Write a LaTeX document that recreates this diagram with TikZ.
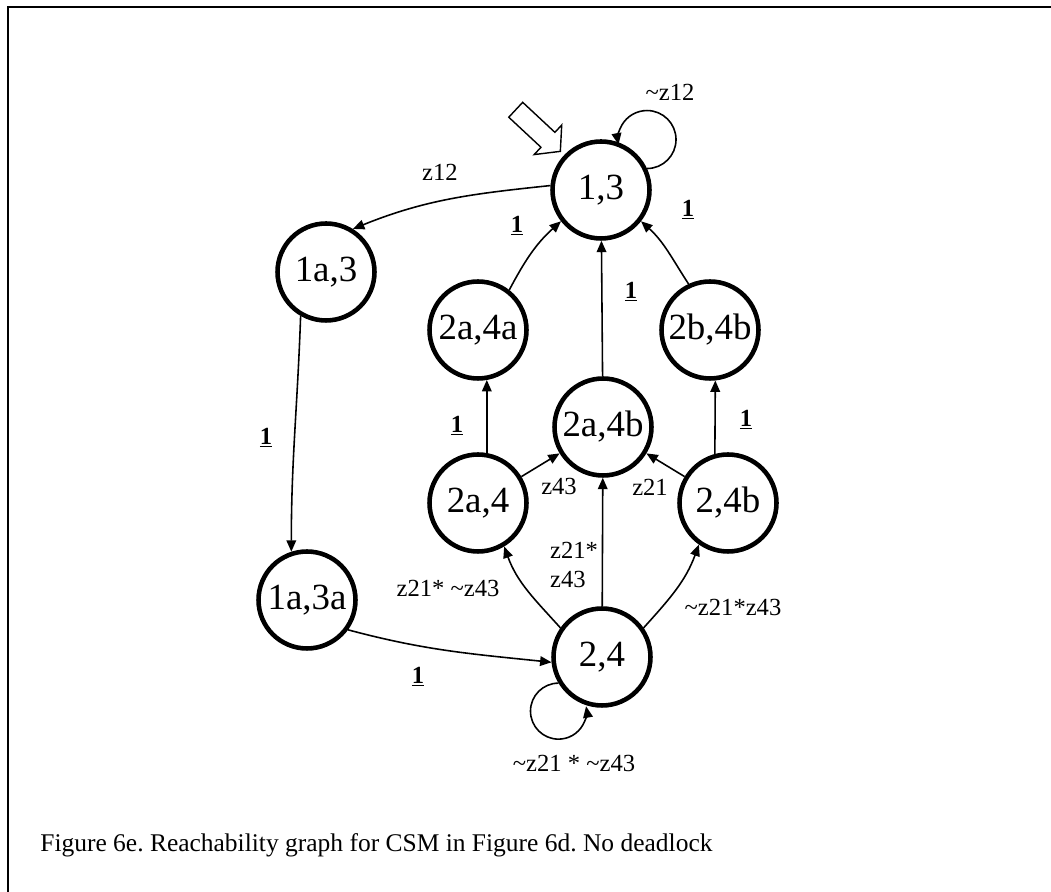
\documentclass[tikz,border=0pt]{standalone}
\usepackage{fontspec}
\setmainfont{Liberation Serif}
\usetikzlibrary{arrows.meta,shapes.arrows}

\newcommand{\ulbf}[1]{\underline{\textbf{#1}}}
\frenchspacing

\begin{document}
\begin{tikzpicture}[x=0.02cm,y=0.02cm,
    state/.style={draw,circle,line width=2.6pt,minimum size=1.94cm,inner sep=0pt,font=\fontsize{21}{24}\selectfont},
    lbl/.style={font=\fontsize{14}{17}\selectfont,inner sep=1pt},
    one/.style={font=\fontsize{14}{17}\selectfont,inner sep=1pt},
    trans/.style={-{Triangle[length=6.5pt,width=5.5pt]},line width=0.9pt},
    startarrow/.style={draw,single arrow,line width=0.8pt,inner sep=0.19cm,minimum height=1.22cm,single arrow head extend=0.2cm,single arrow tip angle=100}]
    \useasboundingbox (0,0) rectangle (1051,892);
    \draw[line width=1.3pt] (8,0) -- (8,885) -- (1051,885);

    \node[state] (n13) at (601,702) {1,3};
    \node[state] (n1a3) at (326,620) {1a,3};
    \node[state] (n1a3a) at (307,292) {1a,3a};
    \node[state] (n2a4a) at (478,562) {2a,4a};
    \node[state] (n2b4b) at (710,562) {2b,4b};
    \node[state] (n2a4b) at (603,465) {2a,4b};
    \node[state] (n2a4) at (478,389) {2a,4};
    \node[state] (n24b) at (728,389) {2,4b};
    \node[state] (n24) at (602,235) {2,4};

    \node[startarrow,rotate=-43,anchor=tip] (init) at (561,740) {};

    \draw[trans] (n13.175) to[out=186,in=22] (n1a3.58);
    \draw[trans] (n13.25) arc[start angle=270,end angle=550,radius=29];
    \draw[trans] (n1a3.240) to[out=268,in=90] (n1a3a.108);
    \draw[trans] (n1a3a.-36) to[out=-15,in=174] (n24.186);
    \draw[trans] (n24.211) arc[start angle=90,end angle=370,radius=28];
    \draw[trans] (n24.145) to[out=132,in=-70] (n2a4.-59);
    \draw[trans] (n24) -- (n2a4b);
    \draw[trans] (n24.35) to[out=48,in=250] (n24b.235);
    \draw[trans] (n2a4) -- (n2a4b);
    \draw[trans] (n24b) -- (n2a4b);
    \draw[trans] (n2a4.80) -- (n2a4a.280);
    \draw[trans] (n24b.105) -- (n2b4b.276);
    \draw[trans] (n2a4a.52) to[out=62,in=222] (n13.218);
    \draw[trans] (n2a4b) -- (n13);
    \draw[trans] (n2b4b.115) to[out=123,in=318] (n13.322);

    \node[lbl] (lz12) at (440,720) {z12};
    \node[lbl] (lnz12) at (670,800) {\textasciitilde z12};
    \node[one] (o13a) at (517,666) {\ulbf{1}};
    \node[one] (o13b) at (631,600) {\ulbf{1}};
    \node[one] (o13c) at (688,682) {\ulbf{1}};
    \node[one] (o1a3) at (266,454) {\ulbf{1}};
    \node[one] (o1a3a) at (418,215) {\ulbf{1}};
    \node[one] (o2a4) at (457,466) {\ulbf{1}};
    \node[one] (o24b) at (746,472) {\ulbf{1}};
    \node[lbl] (lz43) at (559,406) {z43};
    \node[lbl] (lz21) at (650,405) {z21};
    \node[lbl] (lleft) at (448,304) {z21* \textasciitilde z43};
    \node[lbl,anchor=west,align=left] (lmid) at (548,327) {z21*\\z43};
    \node[lbl] (lright) at (733,285) {\textasciitilde z21*z43};
    \node[lbl] (lloop) at (574,129) {\textasciitilde z21 * \textasciitilde z43};

    \node[anchor=west,inner sep=0pt,font=\fontsize{14.5}{17}\selectfont] (caption) at (40,47) {Figure 6e. Reachability graph for CSM in Figure 6d. No deadlock};
\end{tikzpicture}
\end{document}
